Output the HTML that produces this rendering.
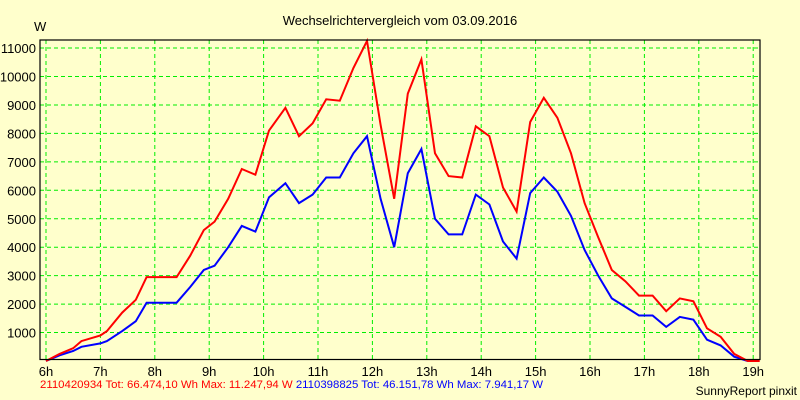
<!DOCTYPE html>
<html><head><meta charset="utf-8"><style>
body{margin:0;background:#ffffcc;}
svg{display:block;font-family:"Liberation Sans",sans-serif;}
</style></head><body>
<svg width="800" height="400" xmlns="http://www.w3.org/2000/svg">
<rect x="0" y="0" width="800" height="400" fill="#ffffcc"/>
<text x="400" y="25" font-size="13" text-anchor="middle">Wechselrichtervergleich vom 03.09.2016</text>
<text x="34" y="31" font-size="13">W</text>
<g id="grid"></g>
<g id="series"></g>
<rect x="40" y="40" width="720" height="319.5" fill="none" stroke="#000" stroke-width="1.2"/>
<g id="ticks"></g>
<text x="40" y="388" font-size="11.4"><tspan fill="#ff0000">2110420934 Tot: 66.474,10 Wh Max: 11.247,94 W </tspan><tspan fill="#0000ff">2110398825 Tot: 46.151,78 Wh Max: 7.941,17 W</tspan></text>
<text x="797" y="395" font-size="12" text-anchor="end">SunnyReport pinxit</text>
</svg>
<script>
const hourTicks=[6,7,8,9,10,11,12,13,14,15,16,17,18,19];
const yTicks=[1000,2000,3000,4000,5000,6000,7000,8000,9000,10000,11000];
const times=[6.0,6.25,6.5,6.65,7.0,7.12,7.4,7.65,7.85,8.4,8.65,8.9,9.1,9.35,9.6,9.85,10.1,10.4,10.65,10.9,11.15,11.4,11.65,11.9,12.15,12.4,12.65,12.9,13.15,13.4,13.65,13.9,14.15,14.4,14.65,14.9,15.15,15.4,15.65,15.9,16.15,16.4,16.65,16.9,17.15,17.4,17.65,17.9,18.15,18.4,18.65,18.9,19.12];
const redValues=[0,250,450,700,900,1050,1700,2150,2950,2950,3700,4600,4900,5700,6750,6550,8100,8900,7900,8350,9200,9150,10300,11250,8300,5700,9400,10600,7300,6500,6450,8250,7900,6100,5250,8400,9250,8550,7300,5550,4350,3200,2800,2300,2300,1750,2200,2100,1150,850,250,0,0];
const blueValues=[0,200,350,500,620,700,1050,1400,2050,2050,2600,3200,3350,4000,4750,4550,5750,6250,5550,5850,6450,6450,7300,7900,5700,4000,6600,7450,5000,4450,4450,5850,5500,4200,3600,5900,6450,5950,5100,3900,3000,2200,1900,1600,1600,1200,1550,1450,750,550,150,0,null];
const NS="http://www.w3.org/2000/svg";
function xs(h){return 46+(h-6)*54.4;}
function ys(v){return 361-v*0.02845;}
const grid=document.getElementById('grid'),ticks=document.getElementById('ticks'),series=document.getElementById('series');
hourTicks.forEach(h=>{
  const l=document.createElementNS(NS,'line');
  l.setAttribute('x1',xs(h));l.setAttribute('x2',xs(h));l.setAttribute('y1',40);l.setAttribute('y2',359);
  l.setAttribute('stroke','#00ee00');l.setAttribute('stroke-dasharray','4,3');
  
  
  grid.appendChild(l);
  const t=document.createElementNS(NS,'text');
  t.setAttribute('x',xs(h));t.setAttribute('y',376);t.setAttribute('font-size','13');t.setAttribute('text-anchor','middle');
  t.textContent=h+'h';
  
  
  ticks.appendChild(t);
});
yTicks.forEach(v=>{
  const l=document.createElementNS(NS,'line');
  l.setAttribute('x1',40);l.setAttribute('x2',760);l.setAttribute('y1',ys(v));l.setAttribute('y2',ys(v));
  l.setAttribute('stroke','#00ee00');l.setAttribute('stroke-dasharray','4,3');
  
  
  grid.appendChild(l);
  const t=document.createElementNS(NS,'text');
  t.setAttribute('x',36);t.setAttribute('y',ys(v)+5);t.setAttribute('font-size','13');t.setAttribute('text-anchor','end');
  t.textContent=v;
  
  
  ticks.appendChild(t);
});
function line(vals,color,name){
  const pts=[];
  vals.forEach((v,i)=>{if(v!==null)pts.push(xs(times[i]).toFixed(1)+','+ys(v).toFixed(1));});
  const p=document.createElementNS(NS,'polyline');
  p.setAttribute('points',pts.join(' '));p.setAttribute('fill','none');p.setAttribute('stroke',color);p.setAttribute('stroke-width','2');
  
  
  series.appendChild(p);
}
line(blueValues,'#0000ff','series-2110398825');
line(redValues,'#ff0000','series-2110420934');
</script>
</body></html>
